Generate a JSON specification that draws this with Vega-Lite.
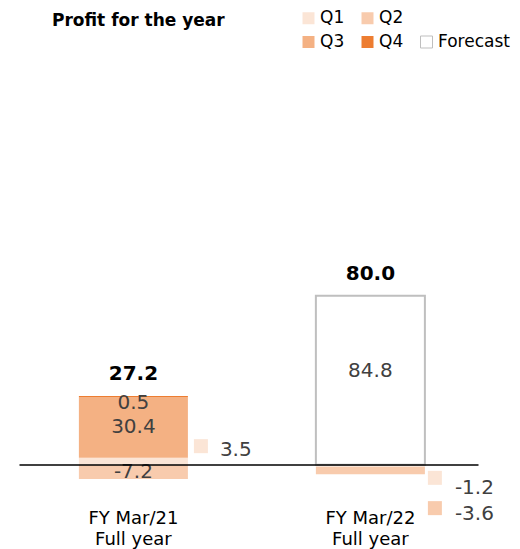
{
  "$schema": "https://vega.github.io/schema/vega-lite/v6.json",
  "width": 459,
  "height": 259,
  "autosize": {"type": "none"},
  "padding": {"left": 19, "top": 245.5, "right": 42, "bottom": 44.5},
  "config": {"font": "DejaVu Sans", "view": {"stroke": null}},
  "title": {"text": "Profit for the year", "anchor": "start", "frame": "group", "dx": 33, "offset": 0, "dy": 20, "fontSize": 17, "fontWeight": "bold", "color": "#000000"},
  "data": {"values": [
    {"year": "FY Mar/21", "quarter": "Q1", "value": 3.5},
    {"year": "FY Mar/21", "quarter": "Q2", "value": -7.2},
    {"year": "FY Mar/21", "quarter": "Q3", "value": 30.4},
    {"year": "FY Mar/21", "quarter": "Q4", "value": 0.5},
    {"year": "FY Mar/22", "quarter": "Q1", "value": -1.2},
    {"year": "FY Mar/22", "quarter": "Q2", "value": -3.6},
    {"year": "FY Mar/22", "quarter": "Forecast", "value": 84.8}
  ]},
  "transform": [
    {"stack": "value", "groupby": ["year"], "sort": [{"field": "quarter", "order": "ascending"}], "as": ["v0", "v1"], "offset": "zero"},
    {"calculate": "(datum.v0 + datum.v1) / 2", "as": "mid"},
    {"calculate": "(datum.value < 0 ? '-' : '') + format(abs(datum.value), '.1f')", "as": "lbl"}
  ],
  "encoding": {
    "x": {"field": "year", "type": "nominal",
      "scale": {"domain": ["FY Mar/21", "FY Mar/22"], "paddingInner": 0.54, "paddingOuter": 0.2384, "align": 0.53},
      "axis": {"title": null, "domain": false, "ticks": false, "labelAngle": 0, "labelFontSize": 18, "labelColor": "#000000", "labelLineHeight": 21, "labelPadding": 5, "labelExpr": "[datum.label, 'Full year']"}}
  },
  "layer": [
    {
      "mark": {"type": "bar", "strokeWidth": 2},
      "encoding": {
        "y": {"field": "v0", "type": "quantitative", "scale": {"domain": [-20, 110], "nice": false, "zero": false}, "axis": {"values": [0], "grid": true, "gridColor": "#000000", "gridWidth": 1.5, "gridOpacity": 1, "labels": false, "ticks": false, "domain": false, "title": null, "zindex": 1}},
        "y2": {"field": "v1"},
        "fill": {"field": "quarter", "type": "nominal",
          "scale": {"domain": ["Q1", "Q2", "_", "Q3", "Q4", "Forecast"], "range": ["#FBE5D6", "#F8CBAD", "rgba(0,0,0,0)", "#F4B183", "#ED7D31", "#FFFFFF"]},
          "legend": {"title": null, "orient": "none", "direction": "horizontal", "legendX": 281, "legendY": -236, "columns": 3, "symbolType": "square", "symbolSize": 144, "labelFontSize": 17, "labelColor": "#000000", "labelOffset": 3, "rowPadding": 6, "columnPadding": 14, "padding": 0, "symbolStrokeWidth": 1, "labelExpr": "datum.label == '_' ? '' : datum.label"}},
        "stroke": {"field": "quarter", "type": "nominal",
          "scale": {"domain": ["Q1", "Q2", "_", "Q3", "Q4", "Forecast"], "range": ["rgba(0,0,0,0)", "rgba(0,0,0,0)", "rgba(0,0,0,0)", "rgba(0,0,0,0)", "rgba(0,0,0,0)", "#BFBFBF"]},
          "legend": {"title": null, "orient": "none", "direction": "horizontal", "legendX": 281, "legendY": -236, "columns": 3, "symbolType": "square", "symbolSize": 144, "labelFontSize": 17, "labelColor": "#000000", "labelOffset": 3, "rowPadding": 6, "columnPadding": 14, "padding": 0, "symbolStrokeWidth": 1, "labelExpr": "datum.label == '_' ? '' : datum.label"}}
      }
    },
    {
      "transform": [{"filter": "datum.year == 'FY Mar/21' && (datum.quarter == 'Q2' || datum.quarter == 'Q3')"}],
      "mark": {"type": "text", "fontSize": 20, "color": "#404040", "baseline": "middle"},
      "encoding": {
        "y": {"field": "mid", "type": "quantitative", "scale": {"domain": [-20, 110], "nice": false, "zero": false}, "axis": {"values": [0], "grid": true, "gridColor": "#000000", "gridWidth": 1.5, "gridOpacity": 1, "labels": false, "ticks": false, "domain": false, "title": null, "zindex": 1}},
        "text": {"field": "lbl", "type": "nominal"}
      }
    },
    {
      "transform": [{"filter": "datum.year == 'FY Mar/21' && datum.quarter == 'Q4'"}],
      "mark": {"type": "text", "fontSize": 20, "color": "#404040", "baseline": "middle", "yOffset": 6},
      "encoding": {
        "y": {"field": "mid", "type": "quantitative", "scale": {"domain": [-20, 110], "nice": false, "zero": false}, "axis": {"values": [0], "grid": true, "gridColor": "#000000", "gridWidth": 1.5, "gridOpacity": 1, "labels": false, "ticks": false, "domain": false, "title": null, "zindex": 1}},
        "text": {"field": "lbl", "type": "nominal"}
      }
    },
    {
      "transform": [{"filter": "datum.quarter == 'Forecast'"}],
      "mark": {"type": "text", "fontSize": 20, "color": "#404040", "baseline": "middle", "yOffset": -9},
      "encoding": {
        "y": {"field": "mid", "type": "quantitative", "scale": {"domain": [-20, 110], "nice": false, "zero": false}, "axis": {"values": [0], "grid": true, "gridColor": "#000000", "gridWidth": 1.5, "gridOpacity": 1, "labels": false, "ticks": false, "domain": false, "title": null, "zindex": 1}},
        "text": {"field": "lbl", "type": "nominal"}
      }
    },
    {
      "transform": [{"filter": "datum.year == 'FY Mar/21' && datum.quarter == 'Q1'"}],
      "mark": {"type": "square", "size": 196, "opacity": 1, "xOffset": 67.5, "yOffset": -15},
      "encoding": {
        "y": {"field": "mid", "type": "quantitative", "scale": {"domain": [-20, 110], "nice": false, "zero": false}, "axis": {"values": [0], "grid": true, "gridColor": "#000000", "gridWidth": 1.5, "gridOpacity": 1, "labels": false, "ticks": false, "domain": false, "title": null, "zindex": 1}},
        "fill": {"field": "quarter", "type": "nominal"}
      }
    },
    {
      "transform": [{"filter": "datum.year == 'FY Mar/21' && datum.quarter == 'Q1'"}],
      "mark": {"type": "text", "fontSize": 20, "color": "#404040", "baseline": "middle", "align": "left", "xOffset": 86.5, "yOffset": -11},
      "encoding": {
        "y": {"field": "mid", "type": "quantitative", "scale": {"domain": [-20, 110], "nice": false, "zero": false}, "axis": {"values": [0], "grid": true, "gridColor": "#000000", "gridWidth": 1.5, "gridOpacity": 1, "labels": false, "ticks": false, "domain": false, "title": null, "zindex": 1}},
        "text": {"field": "lbl", "type": "nominal"}
      }
    },
    {
      "transform": [{"filter": "datum.year == 'FY Mar/22' && datum.quarter == 'Q1'"}],
      "mark": {"type": "square", "size": 196, "opacity": 1, "xOffset": 64.5, "yOffset": 12},
      "encoding": {
        "y": {"field": "mid", "type": "quantitative", "scale": {"domain": [-20, 110], "nice": false, "zero": false}, "axis": {"values": [0], "grid": true, "gridColor": "#000000", "gridWidth": 1.5, "gridOpacity": 1, "labels": false, "ticks": false, "domain": false, "title": null, "zindex": 1}},
        "fill": {"field": "quarter", "type": "nominal"}
      }
    },
    {
      "transform": [{"filter": "datum.year == 'FY Mar/22' && datum.quarter == 'Q1'"}],
      "mark": {"type": "text", "fontSize": 20, "color": "#404040", "baseline": "middle", "align": "left", "xOffset": 84.5, "yOffset": 22},
      "encoding": {
        "y": {"field": "mid", "type": "quantitative", "scale": {"domain": [-20, 110], "nice": false, "zero": false}, "axis": {"values": [0], "grid": true, "gridColor": "#000000", "gridWidth": 1.5, "gridOpacity": 1, "labels": false, "ticks": false, "domain": false, "title": null, "zindex": 1}},
        "text": {"field": "lbl", "type": "nominal"}
      }
    },
    {
      "transform": [{"filter": "datum.year == 'FY Mar/22' && datum.quarter == 'Q2'"}],
      "mark": {"type": "square", "size": 196, "opacity": 1, "xOffset": 64.5, "yOffset": 37.5},
      "encoding": {
        "y": {"field": "mid", "type": "quantitative", "scale": {"domain": [-20, 110], "nice": false, "zero": false}, "axis": {"values": [0], "grid": true, "gridColor": "#000000", "gridWidth": 1.5, "gridOpacity": 1, "labels": false, "ticks": false, "domain": false, "title": null, "zindex": 1}},
        "fill": {"field": "quarter", "type": "nominal"}
      }
    },
    {
      "transform": [{"filter": "datum.year == 'FY Mar/22' && datum.quarter == 'Q2'"}],
      "mark": {"type": "text", "fontSize": 20, "color": "#404040", "baseline": "middle", "align": "left", "xOffset": 84.5, "yOffset": 43.5},
      "encoding": {
        "y": {"field": "mid", "type": "quantitative", "scale": {"domain": [-20, 110], "nice": false, "zero": false}, "axis": {"values": [0], "grid": true, "gridColor": "#000000", "gridWidth": 1.5, "gridOpacity": 1, "labels": false, "ticks": false, "domain": false, "title": null, "zindex": 1}},
        "text": {"field": "lbl", "type": "nominal"}
      }
    },
    {
      "transform": [{"aggregate": [{"op": "sum", "field": "value", "as": "total"}, {"op": "max", "field": "v1", "as": "top"}], "groupby": ["year"]}],
      "mark": {"type": "text", "fontSize": 20, "fontWeight": "bold", "color": "#000000", "baseline": "middle", "yOffset": -22},
      "encoding": {
        "y": {"field": "top", "type": "quantitative", "scale": {"domain": [-20, 110], "nice": false, "zero": false}, "axis": {"values": [0], "grid": true, "gridColor": "#000000", "gridWidth": 1.5, "gridOpacity": 1, "labels": false, "ticks": false, "domain": false, "title": null, "zindex": 1}},
        "text": {"field": "total", "type": "quantitative", "format": ".1f"}
      }
    }
  ]
}
